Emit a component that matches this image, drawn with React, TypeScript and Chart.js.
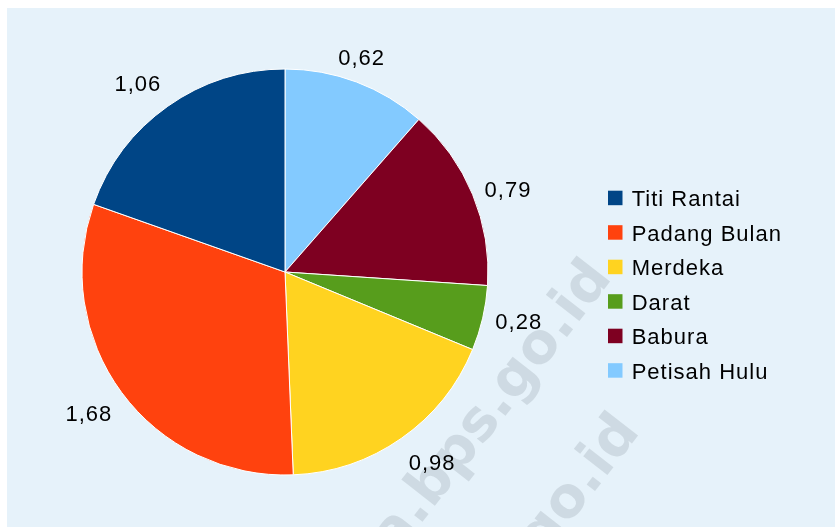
import React, { useEffect, useRef } from "react";
import { Chart, registerables } from "chart.js";

Chart.register(...registerables);

// Legend order (as shown in the reference legend)
const categories = ["Titi Rantai", "Padang Bulan", "Merdeka", "Darat", "Babura", "Petisah Hulu"];
const values = [1.06, 1.68, 0.98, 0.28, 0.79, 0.62];
const colors = ["#004586", "#ff420e", "#ffd320", "#579d1c", "#7e0021", "#83caff"];
const watermarkText = "medankota.bps.go.id";

const FONT = '22px "Liberation Sans", Arial, sans-serif';

const formatValue = (v: number) => v.toFixed(2).replace(".", ",");

// Chart.js draws clockwise from the top; the reference goes counter-clockwise
// in legend order, so the dataset is built in reverse order.
const pieLabels = [...categories].reverse();
const pieValues = [...values].reverse();
const pieColors = [...colors].reverse();

const watermarkPlugin = {
  id: "watermark",
  beforeDatasetsDraw(chart: any) {
    const ctx = chart.ctx;
    ctx.save();
    ctx.font = 'bold 56px "DejaVu Sans", sans-serif';
    ctx.fillStyle = "rgba(160,172,182,0.34)";
    ctx.textAlign = "right";
    ctx.textBaseline = "alphabetic";
    const ang = (-52 * Math.PI) / 180;
    const ends = [
      [606, 270],
      [634, 424],
    ];
    for (const [x, y] of ends) {
      ctx.save();
      ctx.translate(x, y);
      ctx.rotate(ang);
      ctx.fillText(watermarkText, 0, 0);
      ctx.restore();
    }
    ctx.restore();
  },
};

const labelPlugin = {
  id: "sliceLabels",
  afterDatasetsDraw(chart: any) {
    const ctx = chart.ctx;
    const meta = chart.getDatasetMeta(0);
    const data = chart.data.datasets[0].data as number[];
    ctx.save();
    ctx.font = FONT;
    (ctx as any).letterSpacing = "1px";
    ctx.fillStyle = "#000000";
    ctx.textAlign = "center";
    ctx.textBaseline = "alphabetic";
    meta.data.forEach((arc: any, i: number) => {
      const { x, y, startAngle, endAngle, outerRadius } = arc.getProps(
        ["x", "y", "startAngle", "endAngle", "outerRadius"],
        true
      );
      const mid = (startAngle + endAngle) / 2;
      const text = formatValue(data[i]);
      const w = ctx.measureText(text).width - 1;
      const h = 25;
      const gap = 13;
      const ax = x + Math.cos(mid) * (outerRadius + gap);
      const ay = y + Math.sin(mid) * (outerRadius + gap);
      // math angle (counter-clockwise from +x), degrees
      let phi = (-mid * 180) / Math.PI;
      phi = ((phi % 360) + 360) % 360;
      let hx = 0;
      let hy = 0;
      if (phi <= 22.5 || phi > 337.5) hx = 1;
      else if (phi < 67.5) { hx = 1; hy = -1; }
      else if (phi < 112.5) hy = -1;
      else if (phi <= 157.5) { hx = -1; hy = -1; }
      else if (phi <= 202.5) hx = -1;
      else if (phi < 247.5) { hx = -1; hy = 1; }
      else if (phi < 292.5) hy = 1;
      else { hx = 1; hy = 1; }
      const cx = ax + (hx * w) / 2;
      const cy = ay + (hy * h) / 2;
      ctx.fillText(text, cx + 0.5, cy + 8);
    });
    ctx.restore();
  },
};

const legendPlugin = {
  id: "customLegend",
  afterDraw(chart: any) {
    const ctx = chart.ctx;
    const labels = chart.data.labels as string[];
    const bg = chart.data.datasets[0].backgroundColor as string[];
    const n = labels.length;
    ctx.save();
    ctx.font = FONT;
    (ctx as any).letterSpacing = "1px";
    ctx.textAlign = "left";
    ctx.textBaseline = "alphabetic";
    for (let k = 0; k < n; k++) {
      const i = n - 1 - k; // legend order is reverse of drawing order
      const top = 182.7 + k * 34.5;
      ctx.fillStyle = bg[i];
      ctx.fillRect(601, top, 14.5, 14.5);
      ctx.fillStyle = "#000000";
      ctx.fillText(labels[i], 624.7, top + 15.3);
    }
    ctx.restore();
  },
};

export default function App() {
  const canvasRef = useRef<HTMLCanvasElement | null>(null);

  useEffect(() => {
    if (!canvasRef.current) return;
    const chart = new Chart(canvasRef.current, {
      type: "pie",
      data: {
        labels: pieLabels,
        datasets: [
          {
            data: pieValues,
            backgroundColor: pieColors,
            borderColor: "#ffffff",
            borderWidth: 1,
            radius: 203,
          } as any,
        ],
      },
      options: {
        animation: false,
        responsive: false,
        maintainAspectRatio: false,
        layout: { padding: { left: 75, right: 347, top: 61, bottom: 52 } },
        plugins: {
          legend: { display: false },
          tooltip: { enabled: false },
        },
      },
      plugins: [watermarkPlugin, labelPlugin, legendPlugin],
    });
    return () => chart.destroy();
  }, []);

  return (
    <div
      style={{
        position: "absolute",
        left: 7,
        top: 8,
        width: 828,
        height: 519,
        background: "#e6f2fa",
        overflow: "hidden",
      }}
    >
      <canvas ref={canvasRef} width={828} height={519} style={{ display: "block" }} />
    </div>
  );
}
